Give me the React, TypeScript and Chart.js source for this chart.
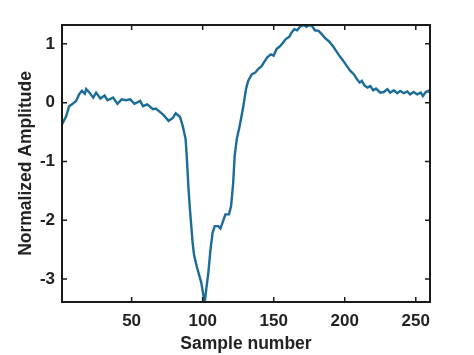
import React, { useEffect, useRef } from "react";
import { Chart, registerables } from "chart.js";

Chart.register(...registerables);

const sampleNumbers = [
  1, 4, 6, 9, 11, 13, 15, 17, 18, 20, 23, 25, 28, 31, 33, 37, 40, 43, 46, 49,
  52, 56, 58, 61, 65, 67, 72, 76, 79, 81, 84, 86, 88, 89, 90, 91, 92, 93, 94, 96,
  99, 100.6, 101.5, 102.5, 104, 105.5, 107, 108.5, 111, 112.5, 114, 116, 118.5, 120, 121.5, 122.5,
  124, 126, 128.5, 130.5, 132, 134.5, 137, 139, 141.5, 143, 145.5, 148, 150, 152, 154.5, 156.5,
  158.5, 161, 162.5, 164.5, 166.5, 168.5, 171, 173, 175, 177, 179, 181.5, 184, 186, 189, 192,
  194.5, 197, 199, 201.5, 204, 206.5, 208.5, 210.5, 212, 214, 216, 218, 220, 222, 225, 227.5,
  230, 232, 234.5, 237, 239, 241.5, 244, 246, 248.5, 251, 253.5, 255, 257, 259, 260,
];

const amplitude = [
  -0.37, -0.23, -0.06, -0.01, 0.03, 0.14, 0.2, 0.15, 0.23, 0.18, 0.085, 0.17, 0.07, 0.12, 0.04, 0.085, -0.02, 0.056, 0.04, 0.056,
  -0.02, 0.03, -0.06, -0.03, -0.11, -0.1, -0.2, -0.31, -0.26, -0.18, -0.24, -0.4, -0.62, -1.0, -1.45, -1.8, -2.1, -2.4, -2.6, -2.8,
  -3.06, -3.29, -3.39, -3.18, -2.89, -2.5, -2.21, -2.1, -2.1, -2.14, -2.04, -1.9, -1.9, -1.76, -1.36, -0.91,
  -0.62, -0.4, -0.08, 0.23, 0.37, 0.48, 0.51, 0.57, 0.62, 0.68, 0.77, 0.82, 0.8, 0.91, 0.96, 1.02,
  1.08, 1.12, 1.19, 1.25, 1.23, 1.29, 1.32, 1.29, 1.32, 1.3, 1.23, 1.22, 1.16, 1.1, 1.04, 0.95,
  0.86, 0.77, 0.71, 0.62, 0.54, 0.48, 0.4, 0.34, 0.37, 0.29, 0.255, 0.28, 0.21, 0.24, 0.17, 0.18,
  0.23, 0.17, 0.21, 0.16, 0.2, 0.16, 0.19, 0.14, 0.18, 0.14, 0.17, 0.11, 0.18, 0.2, 0.16,
];

const xTicks = [50, 100, 150, 200, 250];
const yTicks = [-3, -2, -1, 0, 1];

const xTitle = "Sample number";
const yTitle = "Normalized Amplitude";

const textColor = "#222222";
const lineColor = "#1b6c99";
const fontFamily = "'Liberation Sans', Arial, sans-serif";

const boxPlugin = {
  id: "matlabBox",
  afterDraw(chart: any) {
    const { ctx, chartArea } = chart;
    const { left, right, top, bottom } = chartArea;
    const xs = chart.scales.x;
    const ys = chart.scales.y;
    const tl = 5;
    ctx.save();
    ctx.strokeStyle = "#1a1a1a";
    ctx.lineWidth = 1.5;
    xTicks.forEach((v) => {
      const px = xs.getPixelForValue(v);
      ctx.beginPath();
      ctx.moveTo(px, bottom);
      ctx.lineTo(px, bottom - tl);
      ctx.moveTo(px, top);
      ctx.lineTo(px, top + tl);
      ctx.stroke();
    });
    yTicks.forEach((v) => {
      const py = ys.getPixelForValue(v);
      ctx.beginPath();
      ctx.moveTo(left, py);
      ctx.lineTo(left + tl, py);
      ctx.moveTo(right, py);
      ctx.lineTo(right - tl, py);
      ctx.stroke();
    });
    ctx.lineWidth = 2;
    ctx.strokeRect(left, top, right - left, bottom - top);
    ctx.restore();
  },
};

export default function App() {
  const canvasRef = useRef<HTMLCanvasElement | null>(null);

  useEffect(() => {
    if (!canvasRef.current) return;
    const points = sampleNumbers.map((x, i) => ({ x, y: amplitude[i] }));
    const chart = new Chart(canvasRef.current, {
      type: "line",
      data: {
        datasets: [
          {
            data: points,
            borderColor: lineColor,
            borderWidth: 2.4,
            pointRadius: 0,
            tension: 0,
            fill: false,
          },
        ],
      },
      options: {
        animation: false,
        responsive: true,
        maintainAspectRatio: false,
        layout: { padding: { left: 0, top: 25, right: 44, bottom: 0 } },
        plugins: {
          legend: { display: false },
          tooltip: { enabled: false },
        },
        scales: {
          x: {
            type: "linear",
            min: 1,
            max: 260,
            afterBuildTicks: (scale: any) => {
              scale.ticks = xTicks.map((v) => ({ value: v }));
            },
            afterFit: (scale: any) => {
              scale.height = 53;
            },
            grid: { display: false, drawTicks: false },
            border: { display: false },
            ticks: {
              padding: 9,
              maxRotation: 0,
              color: textColor,
              font: { family: fontFamily, size: 17, weight: "bold" },
            },
            title: {
              display: true,
              text: xTitle,
              color: textColor,
              padding: { top: 1, bottom: 0 },
              font: { family: fontFamily, size: 17.5, weight: "bold" },
            },
          },
          y: {
            type: "linear",
            min: -3.39,
            max: 1.32,
            afterBuildTicks: (scale: any) => {
              scale.ticks = yTicks.map((v) => ({ value: v }));
            },
            afterFit: (scale: any) => {
              scale.width = 62;
            },
            grid: { display: false, drawTicks: false },
            border: { display: false },
            ticks: {
              padding: 7,
              color: textColor,
              font: { family: fontFamily, size: 17, weight: "bold" },
            },
            title: {
              display: true,
              text: yTitle,
              color: textColor,
              padding: { top: 16, bottom: 0 },
              font: { family: fontFamily, size: 17.5, weight: "bold" },
            },
          },
        },
      },
      plugins: [boxPlugin],
    });
    return () => chart.destroy();
  }, []);

  return (
    <div style={{ position: "absolute", left: 0, top: 0, width: 474, height: 355, background: "#fff" }}>
      <canvas ref={canvasRef} />
    </div>
  );
}
